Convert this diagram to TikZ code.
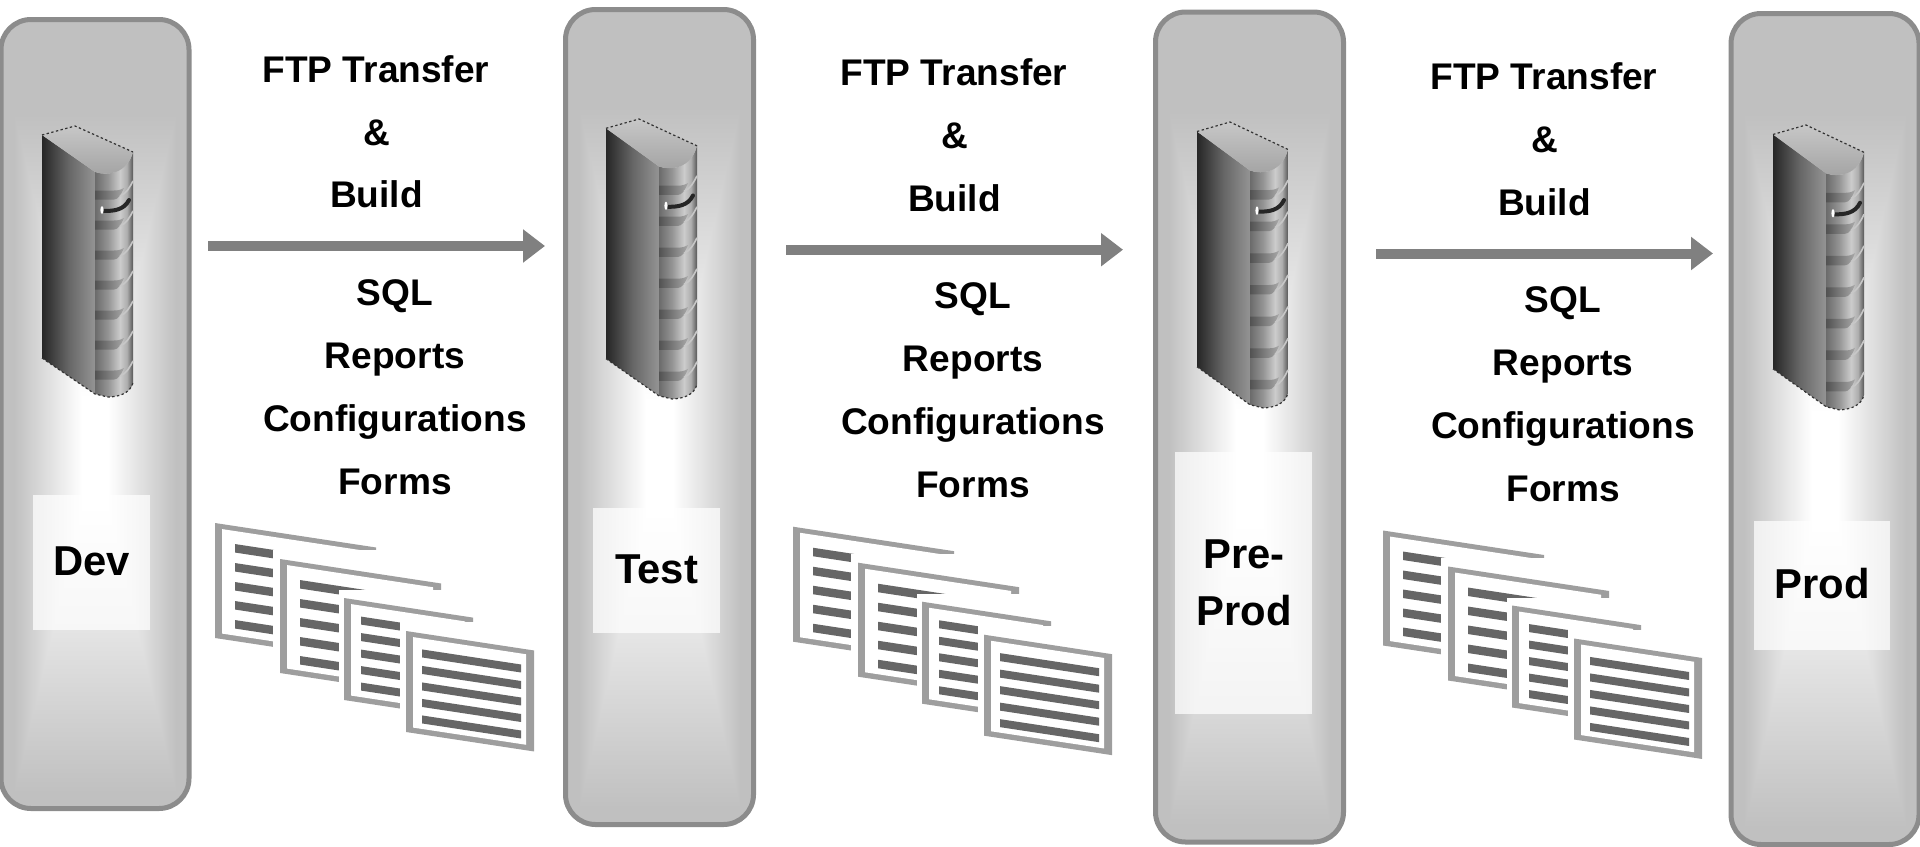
\documentclass[tikz,border=0pt]{standalone}
\usepackage{fontspec}
\setmainfont{Liberation Sans}
\usetikzlibrary{arrows.meta}
\definecolor{panelEdge}{HTML}{8C8C8C}
\definecolor{flowGray}{HTML}{808080}
\definecolor{pageEdge}{HTML}{9E9E9E}
\definecolor{pageBar}{HTML}{666666}
\pgfdeclarefunctionalshading{panelglow}{\pgfpointorigin}{\pgfpoint{100bp}{100bp}}{}{
47.5 sub abs 25 div exch 50 sub abs 25 div
2 copy gt {pop} {exch pop} ifelse
0.86 exch sub 0.72 div
dup 0 lt {pop 0} if
dup 1 gt {pop 1} if
0.247 mul 0.753 add
dup dup
}
\pgfdeclarehorizontalshading{srvside}{100bp}{
color(0bp)=(black!85);color(25bp)=(black!85);color(50bp)=(black!60);color(75bp)=(black!42);color(100bp)=(black!42)}
\pgfdeclarehorizontalshading{srvfront}{100bp}{
color(0bp)=(black!58);color(25bp)=(black!58);color(42bp)=(black!42);color(58bp)=(black!20);color(67bp)=(black!32);color(75bp)=(black!66);color(100bp)=(black!66)}
\pgfdeclareverticalshading{srvtop}{100bp}{
color(0bp)=(black!36);color(25bp)=(black!36);color(75bp)=(black!22);color(100bp)=(black!22)}
\tikzset{
  panel/.style={draw=panelEdge,line width=2.5pt,rounded corners=15pt,shading=panelglow,inner sep=0pt,minimum width=94pt},
  namebox/.style={fill=white,fill opacity=.72,inner sep=0pt},
  flowtext/.style={font=\fontsize{18.55}{20}\selectfont\bfseries,inner sep=0pt,anchor=base,text=black},
  envtext/.style={font=\fontsize{20.9}{22}\selectfont\bfseries,inner sep=0pt,anchor=base,text=black},
  flow/.style={draw=flowGray,line width=5pt,-{Triangle[length=11pt,width=16pt,fill=flowGray]}},
  edgeDots/.style={draw=black!80,line width=.6pt,dash pattern=on 1.2pt off 1.2pt}
}
% server icon: #1 x, #2 y, #3 vertical scale
\newcommand{\serverIcon}[3]{%
\begin{scope}[shift={(#1,#2)},yscale=#3]
  \shade[shading=srvside] (0,9) -- (53,46) -- (53,268) -- (0,232) -- cycle;
  \shade[shading=srvfront] (53,46) .. controls (65,50) and (85,48) .. (91,26) -- (91,257) .. controls (88,268) and (75,271) .. (66,271) -- (53,268) -- cycle;
  \shade[shading=srvtop] (0,9) -- (33,0) -- (91,26) .. controls (85,48) and (65,50) .. (53,46) -- cycle;
  \foreach \by in {69,99,129,159,189,219,249}{
    \shade[left color=black!68,right color=black!34] (53,\by-4.5) -- (72,\by-4.5) .. controls (76,\by-4.5) and (78,\by-5) .. (82,\by-7) .. controls (79,\by) and (76,\by+4.5) .. (72,\by+4.5) -- (53,\by+4.5) -- cycle;
    \draw[black!22,line width=.8pt] (78,\by+1) .. controls (84,\by-1) and (88,\by-8) .. (91,\by-14);
  }
  \draw[black!85,line width=2pt,line cap=round] (62,85) .. controls (72,85) and (82,84) .. (87,74);
  \fill[white] (60,84) ellipse (1.6 and 4);
  \draw[edgeDots] (0,9) -- (33,0) -- (91,26);
  \draw[edgeDots] (0,232) -- (53,268) -- (66,271) .. controls (75,271) and (88,268) .. (91,257);
\end{scope}}
% stacked page: #1 x, #2 y, #3 width, #4 height, #5 bar inset x, #6 first bar y, #7 bar spacing, #8 bar height
\newcommand{\docPage}[8]{%
\begin{scope}[shift={(#1,#2)},x={(.5pt,-.076pt)},y={(0pt,-.5pt)}]
  \fill[pageEdge] (0,0) -- (#3,0) -- (#3,#4) -- (0,#4) -- cycle;
  \fill[white] (7,5) -- (#3-8,5) -- (#3-8,#4-5.5) -- (7,#4-5.5) -- cycle;
  \foreach \k in {0,1,2,3,4}{
    \pgfmathsetmacro{\ty}{#6+\k*#7}
    \fill[pageBar] (#5,\ty) -- (#3-#5+3,\ty) -- (#3-#5+3,\ty+#8) -- (#5,\ty+#8) -- cycle;
  }
\end{scope}}
% group of four pages
\newcommand{\docStack}[2]{%
\begin{scope}[shift={(#1,#2)}]
  \docPage{215}{523}{161}{115}{20}{18}{19}{8.5}
  \fill[white] (273,550) rectangle (450,690);
  \docPage{280}{559}{161}{114}{20}{18}{19}{8.5}
  \fill[white] (339,590) rectangle (480,710);
  \docPage{344}{598}{129}{102}{17}{16}{16.5}{8}
  \fill[white] (400,622) rectangle (480,720);
  \docPage{406}{631}{128}{101}{16}{16}{16.5}{8}
\end{scope}}
\begin{document}
\begin{tikzpicture}[x=.5pt,y=-.5pt]
\useasboundingbox (0,0) rectangle (1920,846);
% panels
\node[panel,minimum height=394.5pt] (pDev) at (95,414) {};
\node[panel,minimum height=407.5pt] (pTest) at (659.5,417) {};
\node[panel,minimum height=415pt] (pPre) at (1249.5,427) {};
\node[panel,minimum height=415.5pt] (pProd) at (1825,429) {};
% servers
\serverIcon{42}{126}{1}
\serverIcon{606}{119}{1.033}
\serverIcon{1197}{122}{1.055}
\serverIcon{1773}{125}{1.051}
% name plates
\node[namebox,minimum width=58.5pt,minimum height=67.5pt] (bDev) at (91.5,562.5) {};
\node[namebox,minimum width=63.5pt,minimum height=62.5pt] (bTest) at (656.5,570.5) {};
\node[namebox,minimum width=68.5pt,minimum height=131pt] (bPre) at (1243.5,583) {};
\node[namebox,minimum width=68pt,minimum height=64.5pt] (bProd) at (1822,585.5) {};
\node[envtext] (tDev) at (91.5,575) {Dev};
\node[envtext] (tTest) at (656.5,583.5) {Test};
\node[envtext] (tPre) at (1244,568) {Pre-};
\node[envtext] (tPreB) at (1244,625) {Prod};
\node[envtext] (tProd) at (1822,598) {Prod};
% flows
\foreach \n/\dx/\dy in {1/0/0,2/578/3.7,3/1168/7.5}{
  \coordinate (s\n) at (208+\dx,246+\dy);
  \coordinate (e\n) at (545+\dx,246+\dy);
  \draw[flow] (s\n) -- (e\n);
  \node[flowtext] (ftp\n) at (376+\dx,82+\dy) {FTP Transfer};
  \node[flowtext] (amp\n) at (376.5+\dx,145+\dy) {\&};
  \node[flowtext] (bld\n) at (376.5+\dx,207.5+\dy) {Build};
  \node[flowtext] (sql\n) at (395+\dx,305+\dy) {SQL};
  \node[flowtext] (rep\n) at (395+\dx,368+\dy) {Reports};
  \node[flowtext] (cfg\n) at (395+\dx,431+\dy) {Configurations};
  \node[flowtext] (frm\n) at (395+\dx,494+\dy) {Forms};
  \docStack{\dx}{\dy}
}
\end{tikzpicture}
\end{document}
